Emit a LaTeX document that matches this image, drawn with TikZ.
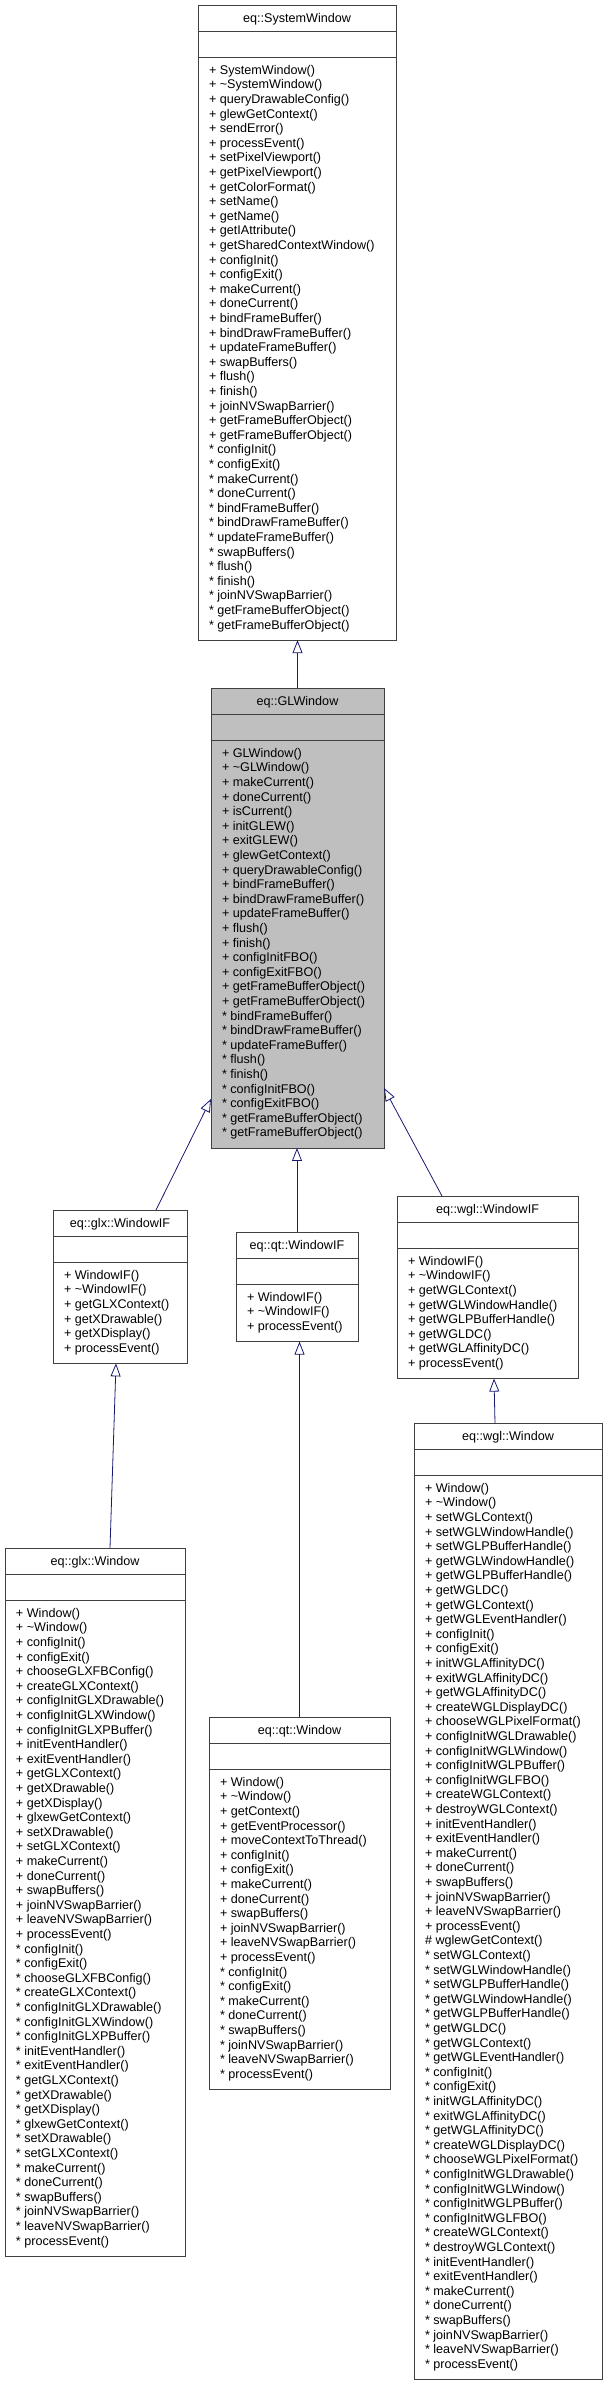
\documentclass[tikz,border=0pt]{standalone}
\usepackage{fontspec}
\setmainfont{Liberation Sans}
\usepackage{xcolor}
\definecolor{boxgray}{HTML}{404040}
\definecolor{edgeblue}{HTML}{191970}
\definecolor{fillgray}{HTML}{BFBFBF}
\usepackage{tikz}
\usetikzlibrary{shapes.multipart}
\usetikzlibrary{arrows.meta}

% title / empty attribute part / member list
\newcommand{\umlbody}[3]{%
  \makebox[#1][c]{\rule[-1.75pt]{0pt}{12.5pt}#2}%
  \nodepart{two}\rule{0pt}{12.5pt}%
  \nodepart{three}\makebox[#1][l]{\begin{tabular}{@{}l@{}}#3\end{tabular}}}
\newcommand{\tld}{\textasciitilde}

\begin{document}
\begin{tikzpicture}[x=1pt, y=1pt,
    umlclass/.style={rectangle split, rectangle split parts=3, draw=boxgray,
      line width=.8pt, fill=white, inner xsep=11pt, inner ysep=6.25pt,
      outer sep=0pt, anchor=north west, font=\fontsize{12.6}{14.6}\selectfont},
    inherit/.style={draw=edgeblue, line width=.8pt,
      -{Triangle[open, length=13pt, width=10pt]}}]
            \useasboundingbox (0, 0) rectangle (603, -2385);

            \node (syswin) [umlclass] at (198, -5) {\umlbody{176pt}{eq::SystemWindow}{%
                + SystemWindow()\\ + \tld SystemWindow()\\ + queryDrawableConfig()\\
                + glewGetContext()\\ + sendError()\\ + processEvent()\\
                + setPixelViewport()\\ + getPixelViewport()\\ + getColorFormat()\\
                + setName()\\ + getName()\\ + getIAttribute()\\
                + getSharedContextWindow()\\ + configInit()\\ + configExit()\\
                + makeCurrent()\\ + doneCurrent()\\ + bindFrameBuffer()\\
                + bindDrawFrameBuffer()\\ + updateFrameBuffer()\\ + swapBuffers()\\
                + flush()\\ + finish()\\ + joinNVSwapBarrier()\\
                + getFrameBufferObject()\\ + getFrameBufferObject()\\
                {*} configInit()\\ {*} configExit()\\ {*} makeCurrent()\\ {*} doneCurrent()\\
                {*} bindFrameBuffer()\\ {*} bindDrawFrameBuffer()\\ {*} updateFrameBuffer()\\
                {*} swapBuffers()\\ {*} flush()\\ {*} finish()\\ {*} joinNVSwapBarrier()\\
                {*} getFrameBufferObject()\\ {*} getFrameBufferObject()}};

            \node (glwin) [umlclass, fill=fillgray] at (211, -688) {\umlbody{151pt}{eq::GLWindow}{%
                + GLWindow()\\ + \tld GLWindow()\\ + makeCurrent()\\ + doneCurrent()\\
                + isCurrent()\\ + initGLEW()\\ + exitGLEW()\\ + glewGetContext()\\
                + queryDrawableConfig()\\ + bindFrameBuffer()\\ + bindDrawFrameBuffer()\\
                + updateFrameBuffer()\\ + flush()\\ + finish()\\ + configInitFBO()\\
                + configExitFBO()\\ + getFrameBufferObject()\\ + getFrameBufferObject()\\
                {*} bindFrameBuffer()\\ {*} bindDrawFrameBuffer()\\ {*} updateFrameBuffer()\\
                {*} flush()\\ {*} finish()\\ {*} configInitFBO()\\ {*} configExitFBO()\\
                {*} getFrameBufferObject()\\ {*} getFrameBufferObject()}};

            \node (glxif) [umlclass] at (53, -1210) {\umlbody{112pt}{eq::glx::WindowIF}{%
                + WindowIF()\\ + \tld WindowIF()\\ + getGLXContext()\\
                + getXDrawable()\\ + getXDisplay()\\ + processEvent()}};

            \node (qtif) [umlclass] at (236, -1232) {\umlbody{100pt}{eq::qt::WindowIF}{%
                + WindowIF()\\ + \tld WindowIF()\\ + processEvent()}};

            \node (wglif) [umlclass] at (397, -1196) {\umlbody{159pt}{eq::wgl::WindowIF}{%
                + WindowIF()\\ + \tld WindowIF()\\ + getWGLContext()\\
                + getWGLWindowHandle()\\ + getWGLPBufferHandle()\\ + getWGLDC()\\
                + getWGLAffinityDC()\\ + processEvent()}};

            \node (glxwin) [umlclass] at (5, -1548) {\umlbody{158pt}{eq::glx::Window}{%
                + Window()\\ + \tld Window()\\ + configInit()\\ + configExit()\\
                + chooseGLXFBConfig()\\ + createGLXContext()\\ + configInitGLXDrawable()\\
                + configInitGLXWindow()\\ + configInitGLXPBuffer()\\ + initEventHandler()\\
                + exitEventHandler()\\ + getGLXContext()\\ + getXDrawable()\\
                + getXDisplay()\\ + glxewGetContext()\\ + setXDrawable()\\
                + setGLXContext()\\ + makeCurrent()\\ + doneCurrent()\\ + swapBuffers()\\
                + joinNVSwapBarrier()\\ + leaveNVSwapBarrier()\\ + processEvent()\\
                {*} configInit()\\ {*} configExit()\\ {*} chooseGLXFBConfig()\\
                {*} createGLXContext()\\ {*} configInitGLXDrawable()\\ {*} configInitGLXWindow()\\
                {*} configInitGLXPBuffer()\\ {*} initEventHandler()\\ {*} exitEventHandler()\\
                {*} getGLXContext()\\ {*} getXDrawable()\\ {*} getXDisplay()\\
                {*} glxewGetContext()\\ {*} setXDrawable()\\ {*} setGLXContext()\\
                {*} makeCurrent()\\ {*} doneCurrent()\\ {*} swapBuffers()\\
                {*} joinNVSwapBarrier()\\ {*} leaveNVSwapBarrier()\\ {*} processEvent()}};

            \node (qtwin) [umlclass] at (209, -1717) {\umlbody{159pt}{eq::qt::Window}{%
                + Window()\\ + \tld Window()\\ + getContext()\\ + getEventProcessor()\\
                + moveContextToThread()\\ + configInit()\\ + configExit()\\
                + makeCurrent()\\ + doneCurrent()\\ + swapBuffers()\\
                + joinNVSwapBarrier()\\ + leaveNVSwapBarrier()\\ + processEvent()\\
                {*} configInit()\\ {*} configExit()\\ {*} makeCurrent()\\ {*} doneCurrent()\\
                {*} swapBuffers()\\ {*} joinNVSwapBarrier()\\ {*} leaveNVSwapBarrier()\\
                {*} processEvent()}};

            \node (wglwin) [umlclass] at (414, -1423) {\umlbody{166pt}{eq::wgl::Window}{%
                + Window()\\ + \tld Window()\\ + setWGLContext()\\
                + setWGLWindowHandle()\\ + setWGLPBufferHandle()\\
                + getWGLWindowHandle()\\ + getWGLPBufferHandle()\\ + getWGLDC()\\
                + getWGLContext()\\ + getWGLEventHandler()\\ + configInit()\\
                + configExit()\\ + initWGLAffinityDC()\\ + exitWGLAffinityDC()\\
                + getWGLAffinityDC()\\ + createWGLDisplayDC()\\ + chooseWGLPixelFormat()\\
                + configInitWGLDrawable()\\ + configInitWGLWindow()\\
                + configInitWGLPBuffer()\\ + configInitWGLFBO()\\ + createWGLContext()\\
                + destroyWGLContext()\\ + initEventHandler()\\ + exitEventHandler()\\
                + makeCurrent()\\ + doneCurrent()\\ + swapBuffers()\\
                + joinNVSwapBarrier()\\ + leaveNVSwapBarrier()\\ + processEvent()\\
                \# wglewGetContext()\\ {*} setWGLContext()\\ {*} setWGLWindowHandle()\\
                {*} setWGLPBufferHandle()\\ {*} getWGLWindowHandle()\\
                {*} getWGLPBufferHandle()\\ {*} getWGLDC()\\ {*} getWGLContext()\\
                {*} getWGLEventHandler()\\ {*} configInit()\\ {*} configExit()\\
                {*} initWGLAffinityDC()\\ {*} exitWGLAffinityDC()\\ {*} getWGLAffinityDC()\\
                {*} createWGLDisplayDC()\\ {*} chooseWGLPixelFormat()\\
                {*} configInitWGLDrawable()\\ {*} configInitWGLWindow()\\
                {*} configInitWGLPBuffer()\\ {*} configInitWGLFBO()\\ {*} createWGLContext()\\
                {*} destroyWGLContext()\\ {*} initEventHandler()\\ {*} exitEventHandler()\\
                {*} makeCurrent()\\ {*} doneCurrent()\\ {*} swapBuffers()\\
                {*} joinNVSwapBarrier()\\ {*} leaveNVSwapBarrier()\\ {*} processEvent()}};

            % generalisation arrows, child to parent
            \draw[inherit] (glwin.north) to (glwin.north |- syswin.south);
            \draw[inherit] ([xshift=-31pt]glxif.north east) to ([yshift=49pt]glwin.south west);
            \draw[inherit] (qtif.north) to (qtif.north |- glwin.south);
            \draw[inherit] ([xshift=45pt]wglif.north west) to ([yshift=60pt]glwin.south east);
            \draw[inherit] ([xshift=15pt]glxwin.north) to ([xshift=-4pt]glxif.south);
            \draw[inherit] (qtwin.north) to (qtwin.north |- qtif.south);
            \draw[inherit] ([xshift=-13pt]wglwin.north) to ([xshift=6.5pt]wglif.south);
        \end{tikzpicture}
\end{document}
